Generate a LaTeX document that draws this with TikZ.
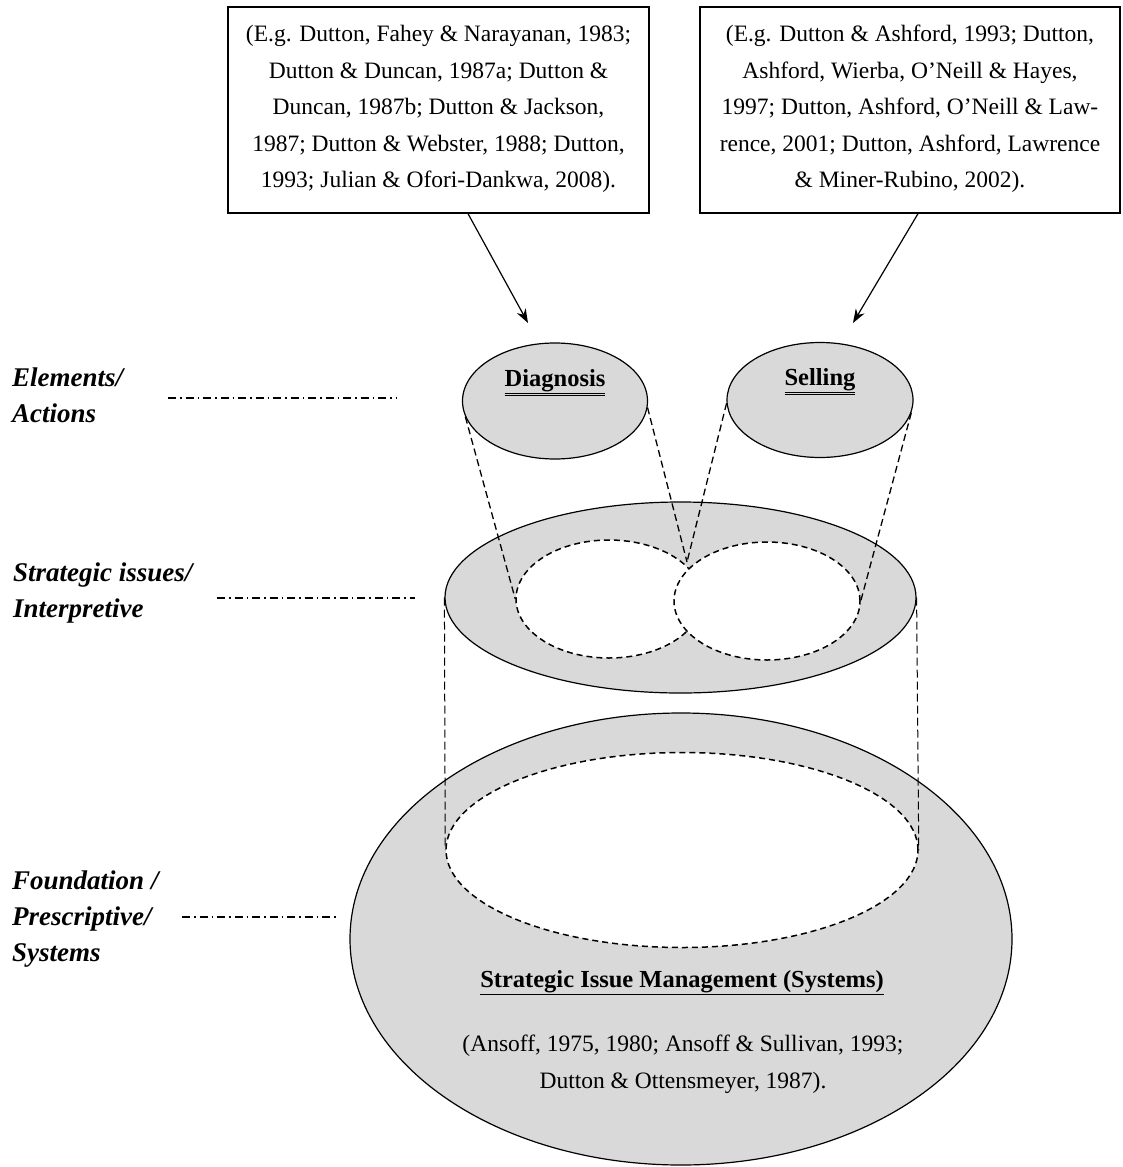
\documentclass[tikz,border=0pt]{standalone}
\usepackage{fontspec}
\setmainfont{Liberation Serif}
\usetikzlibrary{arrows.meta,shapes.geometric}
\definecolor{fillgray}{RGB}{217,217,217}
\begin{document}
\begin{tikzpicture}[x=1pt,y=-1pt,
  txt/.style={font=\fontsize{23.5}{36.5}\selectfont, align=center, inner sep=0pt},
  lab/.style={font=\fontsize{27}{36}\selectfont\bfseries\itshape, align=left, inner sep=0pt, anchor=west},
  citebox/.style={draw, line width=1.3pt, minimum width=421pt, minimum height=206pt, inner sep=0pt},
  arr/.style={line width=1.2pt, -{Stealth[length=14pt,width=10pt]}},
  grayell/.style={ellipse, draw, fill=fillgray, line width=1.2pt, inner sep=0pt},
  whiteell/.style={ellipse, draw, fill=white, line width=1.5pt, dash pattern=on 6pt off 4pt, inner sep=0pt},
  proj/.style={line width=1.3pt, dash pattern=on 7pt off 4pt},
  vproj/.style={line width=1pt, dash pattern=on 8pt off 4pt},
  dashdot/.style={line width=1.2pt, dash pattern=on 8pt off 4pt on 1.5pt off 4pt}
]
\useasboundingbox (0,0) rectangle (1123,1167);

% citation boxes
\node[citebox] (box1) at (438.5,110) {};
\node[txt] (box1t) at (438.5,109) {(E.g. Dutton, Fahey \& Narayanan, 1983;\\Dutton \& Duncan, 1987a; Dutton \&\\Duncan, 1987b; Dutton \& Jackson,\\1987; Dutton \& Webster, 1988; Dutton,\\1993; Julian \& Ofori-Dankwa, 2008).};
\node[citebox, minimum width=420pt] (box2) at (910,110) {};
\node[txt] (box2t) at (910,109) {(E.g. Dutton \& Ashford, 1993; Dutton,\\Ashford, Wierba, O’Neill \& Hayes,\\1997; Dutton, Ashford, O’Neill \& Law-\\rence, 2001; Dutton, Ashford, Lawrence\\\& Miner-Rubino, 2002).};

% bottom level
\node[grayell, minimum width=662pt, minimum height=452pt] (bot) at (681,939) {};
\node[whiteell, minimum width=472pt, minimum height=195pt] (binner) at (682,850) {};
\node[txt, font=\fontsize{24.5}{36.5}\selectfont\bfseries] (simt) at (682,983) {\underline{Strategic Issue Management (Systems)}};
\node[txt] (simc) at (683,1064) {(Ansoff, 1975, 1980; Ansoff \& Sullivan, 1993;\\Dutton \& Ottensmeyer, 1987).};

% middle level
\node[grayell, minimum width=471pt, minimum height=191pt] (mid) at (680.5,597.5) {};
\node[whiteell, minimum width=186pt, minimum height=118pt] (inl) at (609,599) {};
\node[whiteell, minimum width=186pt, minimum height=118pt] (inr) at (767,601) {};
\coordinate (cusp) at (687,562);

% top level
\node[grayell, minimum width=185pt, minimum height=116pt] (diag) at (555,401) {};
\node[grayell, minimum width=186pt, minimum height=115pt] (sell) at (820,400) {};
\node[txt, font=\fontsize{24.5}{30}\selectfont\bfseries] (diagt) at (555,383) {\underline{\underline{Diagnosis}}};
\node[txt, font=\fontsize{24.5}{30}\selectfont\bfseries] (sellt) at (820,382) {\underline{\underline{Selling}}};

% projection lines
\draw[proj] (diag.190) -- (inl.west);
\draw[proj] (diag.356) -- (cusp);
\draw[proj] (sell.182) -- (cusp);
\draw[proj] (sell.352) -- (inr.east);
\draw[vproj] (mid.west) -- (binner.west);
\draw[vproj] (mid.east) -- (binner.east);

% arrows
\coordinate (t1) at (528,323);
\coordinate (t2) at (853,323);
\draw[arr] ([xshift=29.5pt]box1.south) -- (t1);
\draw[arr] ([xshift=8pt]box2.south) -- (t2);

% level labels
\node[lab] (l1) at (12,395) {Elements/\\Actions};
\node[lab] (l2) at (13,592.5) {Strategic issues/\\Interpretive};
\node[lab] (l3) at (12,919) {Foundation /\\Prescriptive/\\Systems};
\coordinate (d1a) at (168,398); \coordinate (d1b) at (397,398);
\coordinate (d2a) at (217,598); \coordinate (d2b) at (415,598);
\coordinate (d3a) at (182,917); \coordinate (d3b) at (337,917);
\draw[dashdot] (d1a) -- (d1b);
\draw[dashdot] (d2a) -- (d2b);
\draw[dashdot] (d3a) -- (d3b);
\end{tikzpicture}
\end{document}
